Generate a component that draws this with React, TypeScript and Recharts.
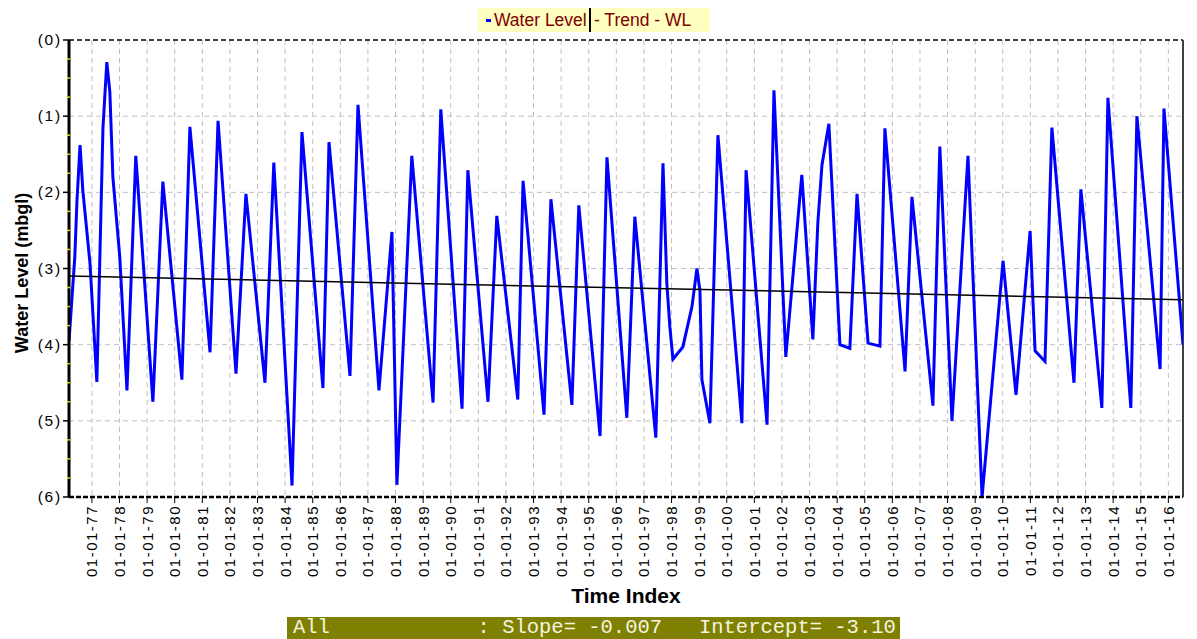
import React from 'react';
import { LineChart, Line, XAxis, YAxis, CartesianGrid, ReferenceLine } from 'recharts';

// time index as decimal years, water level below ground (m)
const times = [
  1976.17, 1976.38, 1976.46, 1976.57, 1976.67, 1976.93, 1977.18, 1977.4, 1977.54, 1977.65,
  1977.76, 1978.01, 1978.27, 1978.59, 1979.21, 1979.57, 1980.26, 1980.55, 1981.28, 1981.57,
  1982.22, 1982.58, 1983.27, 1983.59, 1984.25, 1984.61, 1985.37, 1985.59, 1986.35, 1986.64,
  1987.4, 1987.87, 1988.05, 1988.59, 1989.36, 1989.64, 1990.41, 1990.62, 1991.35, 1991.67,
  1992.43, 1992.62, 1993.38, 1993.63, 1994.39, 1994.64, 1995.41, 1995.66, 1996.38, 1996.67,
  1997.43, 1997.69, 1997.83, 1997.94, 1998.05, 1998.41, 1998.74, 1998.92, 1999.03, 1999.1,
  1999.39, 1999.68, 2000.55, 2000.7, 2001.46, 2001.71, 2002.14, 2002.72, 2003.12, 2003.3,
  2003.45, 2003.7, 2004.1, 2004.46, 2004.72, 2005.12, 2005.55, 2005.73, 2006.46, 2006.71,
  2007.47, 2007.72, 2008.16, 2008.74, 2009.25, 2010.01, 2010.48, 2010.99, 2011.17, 2011.53,
  2011.78, 2012.58, 2012.83, 2013.59, 2013.81, 2014.64, 2014.86, 2015.7, 2015.84, 2016.53,
];
const levels = [
  3.95, 2.85, 2.1, 1.38, 1.97, 2.93, 4.49, 1.16, 0.29, 0.68,
  1.8, 2.85, 4.6, 1.52, 4.75, 1.86, 4.46, 1.14, 4.1, 1.06,
  4.38, 2.02, 4.5, 1.61, 5.85, 1.21, 4.57, 1.34, 4.41, 0.85,
  4.6, 2.52, 5.84, 1.52, 4.76, 0.91, 4.84, 1.71, 4.75, 2.31,
  4.72, 1.85, 4.92, 2.09, 4.79, 2.17, 5.2, 1.54, 4.96, 2.32,
  5.22, 1.62, 3.2, 3.77, 4.19, 4.03, 3.5, 3.0, 3.3, 4.46,
  5.03, 1.25, 5.03, 1.71, 5.05, 0.66, 4.16, 1.77, 3.93, 2.4,
  1.64, 1.1, 4.0, 4.05, 2.02, 3.98, 4.02, 1.16, 4.35, 2.06,
  4.8, 1.4, 5.0, 1.52, 6.0, 2.9, 4.66, 2.51, 4.08, 4.22,
  1.15, 4.5, 1.96, 4.83, 0.76, 4.83, 1.0, 4.32, 0.9, 4.0,
];

const trendTimes = [1976.17, 2016.53];
const trendLevels = [3.1, 3.41];

const yearTicks = [
  1977, 1978, 1979, 1980, 1981, 1982, 1983, 1984, 1985, 1986,
  1987, 1988, 1989, 1990, 1991, 1992, 1993, 1994, 1995, 1996,
  1997, 1998, 1999, 2000, 2001, 2002, 2003, 2004, 2005, 2006,
  2007, 2008, 2009, 2010, 2011, 2012, 2013, 2014, 2015, 2016,
];
const levelTicks = [0, 0.25, 0.5, 0.75, 1, 1.25, 1.5, 1.75, 2, 2.25, 2.5, 2.75, 3, 3.25, 3.5, 3.75, 4, 4.25, 4.5, 4.75, 5, 5.25, 5.5, 5.75, 6];
const gridLevels = [1, 2, 3, 4, 5];

const waterData = times.map((t, i) => ({ t, level: levels[i] }));
const trendData = trendTimes.map((t, i) => ({ t, level: trendLevels[i] }));

const FONT = '"Liberation Sans", Arial, sans-serif';

const XTick = (props: any) => {
  const { x, payload } = props;
  const axisY = 497;
  const label = '01-01-' + String(payload.value).slice(2);
  return (
    <g>
      <line x1={x} y1={axisY} x2={x} y2={axisY + 6} stroke="#000" strokeWidth={1} />
      <text
        transform={`translate(${x + 5.5},${axisY + 8}) rotate(-90)`}
        textAnchor="end"
        fontSize={15}
        letterSpacing={1.5}
        fontFamily={FONT}
        fill="#000"
      >
        {label}
      </text>
    </g>
  );
};

const YTick = (props: any) => {
  const { y, payload } = props;
  const v = payload.value;
  if (v % 1 !== 0) {
    return <line x1={67} y1={y} x2={70} y2={y} stroke="#e0e000" strokeWidth={1.5} />;
  }
  return (
    <g>
      <line x1={63} y1={y} x2={69} y2={y} stroke="#000" strokeWidth={1.5} />
      <text x={62} y={y + 5} textAnchor="end" fontSize={15.5} letterSpacing={1.8} fontFamily={FONT} fill="#000">
        {`(${v})`}
      </text>
    </g>
  );
};

export default function App() {
  return (
    <div style={{ position: 'absolute', left: 0, top: 0, width: 1197, height: 639, background: '#fff', fontFamily: FONT, overflow: 'hidden' }}>
      <LineChart width={1197} height={639} margin={{ top: 40, right: 14, bottom: 0, left: 0 }}>
        <CartesianGrid horizontal={false} stroke="#c0c0c0" strokeDasharray="5 4" />
        <XAxis
          dataKey="t"
          type="number"
          domain={[1976.17, 2016.53]}
          ticks={yearTicks}
          allowDataOverflow
          height={142}
          tick={<XTick />}
          tickLine={false}
          axisLine={{ stroke: '#000', strokeWidth: 2.5, strokeDasharray: '5 2' }}
          interval={0}
        />
        <YAxis
          type="number"
          domain={[0, 6]}
          reversed
          ticks={levelTicks}
          interval={0}
          width={69}
          tick={<YTick />}
          tickLine={false}
          axisLine={{ stroke: '#000', strokeWidth: 3 }}
        />
        {gridLevels.map((g) => (
          <ReferenceLine key={g} y={g} stroke="#c0c0c0" strokeDasharray="5 4" />
        ))}
        <ReferenceLine y={0} stroke="#000" strokeWidth={1.5} strokeDasharray="5 3" />
        <ReferenceLine x={2016.53} stroke="#404040" strokeWidth={2} />
        <Line
          data={waterData}
          dataKey="level"
          type="linear"
          stroke="#0000ff"
          strokeWidth={3}
          dot={false}
          isAnimationActive={false}
        />
        <Line
          data={trendData}
          dataKey="level"
          type="linear"
          stroke="#000"
          strokeWidth={1.5}
          dot={false}
          isAnimationActive={false}
        />
      </LineChart>

      {/* legend */}
      <div style={{ position: 'absolute', left: 478, top: 8, width: 232, height: 24, background: '#ffffc0', fontSize: 17.5, color: '#800000', lineHeight: '24px', whiteSpace: 'nowrap' }}>
        <span style={{ position: 'absolute', left: 8, top: 11, width: 5, height: 3, background: '#0000ff' }} />
        <span style={{ position: 'absolute', left: 16 }}>Water Level</span>
        <span style={{ position: 'absolute', left: 111, top: 0, width: 2, height: 24, background: '#000' }} />
        <span style={{ position: 'absolute', left: 116 }}>- Trend - WL</span>
      </div>

      {/* axis titles */}
      <div style={{ position: 'absolute', left: 22, top: 273, transform: 'translate(-50%, -50%) rotate(-90deg)', fontWeight: 'bold', fontSize: 18, whiteSpace: 'nowrap', color: '#000' }}>
        Water Level (mbgl)
      </div>
      <div style={{ position: 'absolute', left: 626, top: 596, transform: 'translate(-50%, -50%)', fontWeight: 'bold', fontSize: 21, whiteSpace: 'nowrap', color: '#000' }}>
        Time Index
      </div>

      {/* trend statistics */}
      <div style={{ position: 'absolute', left: 287, top: 617, width: 613, height: 22, background: '#808000', color: '#f4f4e0', fontFamily: '"Liberation Mono", "Courier New", monospace', fontSize: 20.5, lineHeight: '22px', whiteSpace: 'pre', paddingLeft: 6, boxSizing: 'border-box' }}>
        {'All            : Slope= -0.007   Intercept= -3.10'}
      </div>
    </div>
  );
}
